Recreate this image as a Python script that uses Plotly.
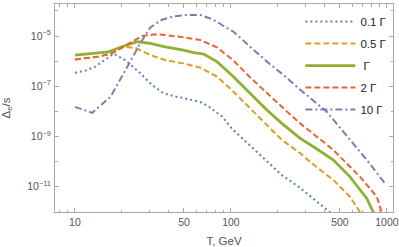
import plotly.graph_objects as go

# Temperatures (GeV) and Delta_e/s for each rate
T_01 = [10, 11.7, 13.5, 15.6, 17.7, 21, 25.6, 31.2, 37, 43, 49.5, 63.6, 72, 79, 87.6, 101, 130, 166, 212, 271, 338, 432]
D_01 = [3.47e-7, 4.17e-7, 6.03e-7, 1.10e-6, 1.95e-6, 1.10e-6, 3.80e-7, 1.12e-7, 5.25e-8, 3.98e-8, 3.39e-8,
        2.34e-8, 1.58e-8, 1.0e-8, 6.31e-9, 2.09e-9, 5.01e-10, 1.15e-10, 2.88e-11, 1.0e-11, 3.39e-12, 9.5e-13]

T_05 = [10, 14.2, 17.3, 20.5, 24.5, 30.4, 37.9, 49.5, 63.6, 81.3, 103.9, 117.6, 132.9, 166, 212, 278, 330, 454, 580, 673]
D_05 = [1.17e-6, 1.51e-6, 2.04e-6, 3.72e-6, 3.31e-6, 1.74e-6, 1.10e-6, 8.13e-7, 5.50e-7, 2.40e-7, 6.03e-8,
        2.82e-8, 1.41e-8, 3.31e-9, 7.24e-10, 2.14e-10, 8.51e-11, 1.82e-11, 3.98e-12, 9.5e-13]

T_1 = [10, 14.6, 16.4, 20.0, 25.0, 30.4, 37.9, 49.5, 57.7, 66.8, 81.3, 103.9, 132.9, 170, 212, 278, 346, 454, 580, 743, 819]
D_1 = [1.74e-6, 2.14e-6, 2.34e-6, 3.72e-6, 5.89e-6, 5.13e-6, 3.72e-6, 2.75e-6, 2.19e-6, 1.91e-6, 9.55e-7,
       2.40e-7, 5.25e-8, 1.12e-8, 3.31e-9, 8.32e-10, 3.55e-10, 1.15e-10, 2.45e-11, 3.39e-12, 9.5e-13]

T_2 = [10, 14.2, 17.3, 22.1, 26.9, 32.7, 37.9, 49.7, 63.6, 81.3, 103.9, 132.9, 170, 217, 278, 346, 454, 673, 861, 926]
D_2 = [1.17e-6, 1.51e-6, 2.04e-6, 5.13e-6, 1.0e-5, 1.17e-5, 1.10e-5, 8.91e-6, 6.92e-6, 3.55e-6, 1.05e-6,
       2.24e-7, 5.25e-8, 1.32e-8, 3.31e-9, 1.12e-9, 2.88e-10, 2.45e-11, 3.98e-12, 9.5e-13]

T_10 = [10, 12.9, 16.9, 19.5, 22.6, 26.2, 30.4, 36.1, 42.9, 52.2, 63.6, 73.6, 81.3, 89.7, 103.9, 132.9, 170,
        217, 271, 412, 580, 743, 972]
D_10 = [1.51e-8, 8.71e-9, 3.80e-8, 1.78e-7, 9.55e-7, 5.13e-6, 2.2e-5, 4.47e-5, 6.03e-5, 6.92e-5, 6.92e-5,
        5.01e-5, 3.72e-5, 2.51e-5, 1.48e-5, 3.72e-6, 9.55e-7, 2.82e-7, 8.32e-8, 9.55e-9, 7.24e-10, 1.15e-10, 1.35e-11]

names = ["0.1 Γ", "0.5 Γ", "\u00a0Γ", "2 Γ", "10 Γ"]
x_tickvals = [10, 50, 100, 500, 1000]
x_ticktext = ["10", "50", "100", "500", "1000"]
x_minor = [8, 9, 20, 30, 40, 60, 70, 80, 90, 200, 300, 400, 600, 700, 800, 900]
y_tickvals = [1e-11, 1e-9, 1e-7, 1e-5]
y_ticktext = ["10<sup>−11</sup>", "10<sup>−9</sup>", "10<sup>−7</sup>", "10<sup>−5</sup>"]
y_minor = [1e-12, 1e-10, 1e-8, 1e-6, 1e-4]

series = [(T_01, D_01), (T_05, D_05), (T_1, D_1), (T_2, D_2), (T_10, D_10)]
colors = ["#5E81B5", "#E19C24", "#8FB032", "#EB6235", "#8778B3"]
dashes = ["2px,3px", "6px,3px", "solid", "6px,3px", "7px,3px,2px,3px"]
widths = [2, 2, 2.8, 2, 2]

fig = go.Figure()
for i, ((tx, dy), nm) in enumerate(zip(series, names)):
    fig.add_trace(go.Scatter(x=tx, y=dy, mode="lines", name=nm, legendgroup=str(i),
                             line=dict(color=colors[i], dash=dashes[i], width=widths[i])))

font = "Liberation Sans, Arial, sans-serif"
axcol = "#a8a8a8"
fig.update_layout(
    width=399, height=247,
    margin=dict(l=55, r=6, t=4, b=35),
    paper_bgcolor="white", plot_bgcolor="white",
    font=dict(family=font, size=10.5, color="#555"),
    legend=dict(x=0.726, y=0.985, xanchor="left", yanchor="top", bgcolor="rgba(0,0,0,0)",
                font=dict(size=11.5, color="#222"), tracegroupgap=3, itemwidth=50),
)
fig.update_xaxes(type="log", range=[0.872, 3.039], showgrid=False, zeroline=False, automargin=False,
                 showline=True, linecolor=axcol, linewidth=1, mirror="allticks",
                 ticks="inside", ticklen=4, tickcolor=axcol, ticklabeloverflow="allow",
                 tickvals=x_tickvals, ticktext=x_ticktext, ticklabelstandoff=0,
                 minor=dict(tickvals=x_minor, ticks="inside", ticklen=2.5, tickcolor=axcol),
                 title=dict(text="T, GeV", font=dict(size=11.5, color="#555"), standoff=10))
fig.update_yaxes(type="log", range=[-12.01, -3.725], showgrid=False, zeroline=False, automargin=False,
                 showline=True, linecolor=axcol, linewidth=1, mirror="allticks",
                 ticks="inside", ticklen=4, tickcolor=axcol, ticklabeloverflow="allow",
                 tickvals=y_tickvals, ticktext=y_ticktext, ticklabelstandoff=1,
                 minor=dict(tickvals=y_minor, ticks="inside", ticklen=2.5, tickcolor=axcol),
                 title=dict(text="Δ<sub>e</sub>/s", font=dict(size=11.5, color="#555"), standoff=30))

fig.write_html("out.html", config={"displayModeBar": False},
               post_script="document.body.style.margin='0px';")
